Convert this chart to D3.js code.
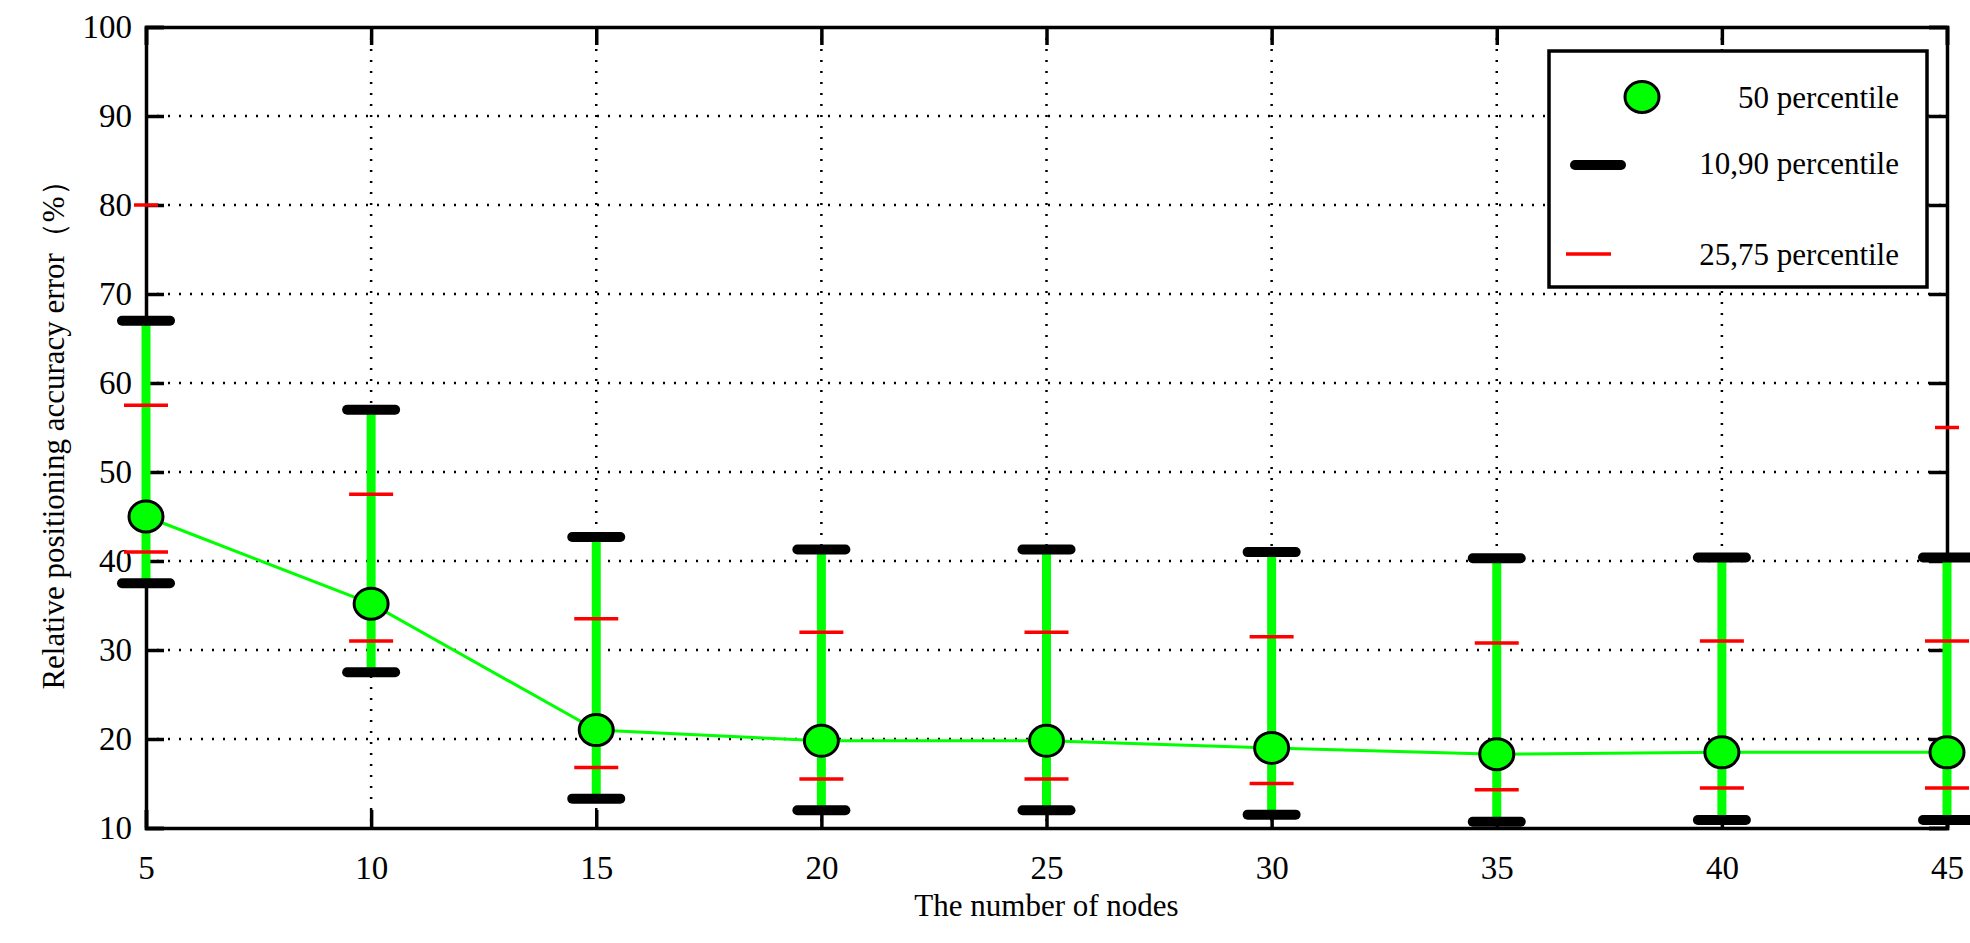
<!DOCTYPE html>
<html><head><meta charset="utf-8">
<script src="https://cdn.jsdelivr.net/npm/d3@7"></script>
<style>body{margin:0;background:#fff}text{font-family:"Liberation Serif","DejaVu Serif",serif;fill:#000}</style>
</head><body><svg id="c" width="1970" height="943"></svg>
<script>
const nodes = [5, 10, 15, 20, 25, 30, 35, 40, 45];
const p50 = [45, 35.2, 21, 19.8, 19.8, 19, 18.3, 18.5, 18.5];
const p10 = [37.5, 27.5, 13.3, 12, 12, 11.5, 10.7, 10.9, 10.9];
const p90 = [67, 57, 42.7, 41.3, 41.3, 41, 40.3, 40.4, 40.4];
const p25 = [41, 31, 16.8, 15.5, 15.5, 15, 14.3, 14.5, 14.5];
const p75 = [57.5, 47.5, 33.5, 32, 32, 31.5, 30.8, 31, 31];
const extraX = [5, 45];
const extraY = [80, 55];
const yTicks = [10, 20, 30, 40, 50, 60, 70, 80, 90, 100];

const m = {l: 146, r: 1947, t: 27, b: 828};
const svg = d3.select('#c');
const x = d3.scaleLinear().domain([5, 45]).range([m.l, m.r]);
const y = d3.scaleLinear().domain([10, 100]).range([m.b, m.t]);

// grid
svg.append('g').selectAll('line').data(nodes.slice(1, -1)).join('line')
  .attr('x1', d => x(d)).attr('x2', d => x(d)).attr('y1', m.t).attr('y2', m.b)
  .attr('stroke', '#000').attr('stroke-width', 2.5).attr('stroke-dasharray', '2,9');
svg.append('g').selectAll('line').data(yTicks.slice(1, -1)).join('line')
  .attr('x1', m.l).attr('x2', m.r).attr('y1', d => y(d)).attr('y2', d => y(d))
  .attr('stroke', '#000').attr('stroke-width', 2.5).attr('stroke-dasharray', '2,9');

// axes with inward ticks
const fs = 33;
svg.append('g').attr('transform', `translate(0,${m.b})`)
  .call(d3.axisBottom(x).tickValues(nodes).tickSize(-18).tickPadding(28));
svg.append('g').attr('transform', `translate(${m.l},0)`)
  .call(d3.axisLeft(y).tickValues(yTicks).tickSize(-18).tickPadding(14));
svg.append('g').attr('transform', `translate(0,${m.t})`)
  .call(d3.axisTop(x).tickValues(nodes).tickSize(-18).tickFormat(''));
svg.append('g').attr('transform', `translate(${m.r},0)`)
  .call(d3.axisRight(y).tickValues(yTicks).tickSize(-18).tickFormat(''));
svg.selectAll('.domain').attr('stroke-width', 3.5);
svg.selectAll('.tick line').attr('stroke-width', 3.5);
svg.selectAll('.tick text').style('font-size', fs + 'px').style('font-family', '"Liberation Serif",serif');

// median line
svg.append('path').datum(nodes.map((n, i) => [n, p50[i]]))
  .attr('d', d3.line().x(d => x(d[0])).y(d => y(d[1])))
  .attr('fill', 'none').attr('stroke', '#00ff00').attr('stroke-width', 3);

// bars
const g = svg.append('g');
g.selectAll('.bar').data(nodes).join('line')
  .attr('x1', d => x(d)).attr('x2', d => x(d))
  .attr('y1', (d, i) => y(p10[i])).attr('y2', (d, i) => y(p90[i]))
  .attr('stroke', '#00ff00').attr('stroke-width', 9);
const cap = (vals, w, col, sw, lc) => g.append('g').selectAll('line').data(nodes).join('line')
  .attr('x1', d => x(d) - w).attr('x2', d => x(d) + w)
  .attr('y1', (d, i) => y(vals[i])).attr('y2', (d, i) => y(vals[i]))
  .attr('stroke', col).attr('stroke-width', sw).attr('stroke-linecap', lc);
cap(p10, 24, '#000', 10, 'round');
cap(p90, 24, '#000', 10, 'round');
cap(p25, 22, '#ff0000', 3.5, 'butt');
cap(p75, 22, '#ff0000', 3.5, 'butt');
g.append('g').selectAll('line').data(extraX).join('line')
  .attr('x1', d => x(d) - 12).attr('x2', d => x(d) + 12)
  .attr('y1', (d, i) => y(extraY[i])).attr('y2', (d, i) => y(extraY[i]))
  .attr('stroke', '#ff0000').attr('stroke-width', 3.5);
g.append('g').selectAll('ellipse').data(nodes).join('ellipse')
  .attr('cx', d => x(d)).attr('cy', (d, i) => y(p50[i])).attr('rx', 17).attr('ry', 15.5)
  .attr('fill', '#00ff00').attr('stroke', '#000').attr('stroke-width', 3);

// legend
const L = svg.append('g');
L.append('rect').attr('x', 1549).attr('y', 51).attr('width', 378).attr('height', 236)
  .attr('fill', '#fff').attr('stroke', '#000').attr('stroke-width', 3.5);
L.append('ellipse').attr('cx', 1642).attr('cy', 97).attr('rx', 17).attr('ry', 15.5)
  .attr('fill', '#00ff00').attr('stroke', '#000').attr('stroke-width', 3);
L.append('line').attr('x1', 1575).attr('x2', 1621).attr('y1', 165).attr('y2', 165)
  .attr('stroke', '#000').attr('stroke-width', 10).attr('stroke-linecap', 'round');
L.append('line').attr('x1', 1566).attr('x2', 1611).attr('y1', 254).attr('y2', 254)
  .attr('stroke', '#ff0000').attr('stroke-width', 3.5);
[['50 percentile', 108], ['10,90 percentile', 174], ['25,75 percentile', 265]].forEach(([t, yy]) =>
  L.append('text').attr('x', 1899).attr('y', yy).attr('text-anchor', 'end').attr('font-size', 31).text(t));

// titles
svg.append('text').attr('x', (m.l + m.r) / 2).attr('y', 916).attr('text-anchor', 'middle')
  .attr('font-size', 31).text('The number of nodes');
svg.append('text').attr('transform', `translate(64,${(m.t + m.b) / 2}) rotate(-90)`)
  .attr('text-anchor', 'middle').attr('font-size', 31).text('Relative positioning accuracy error（%）');
</script></body></html>
